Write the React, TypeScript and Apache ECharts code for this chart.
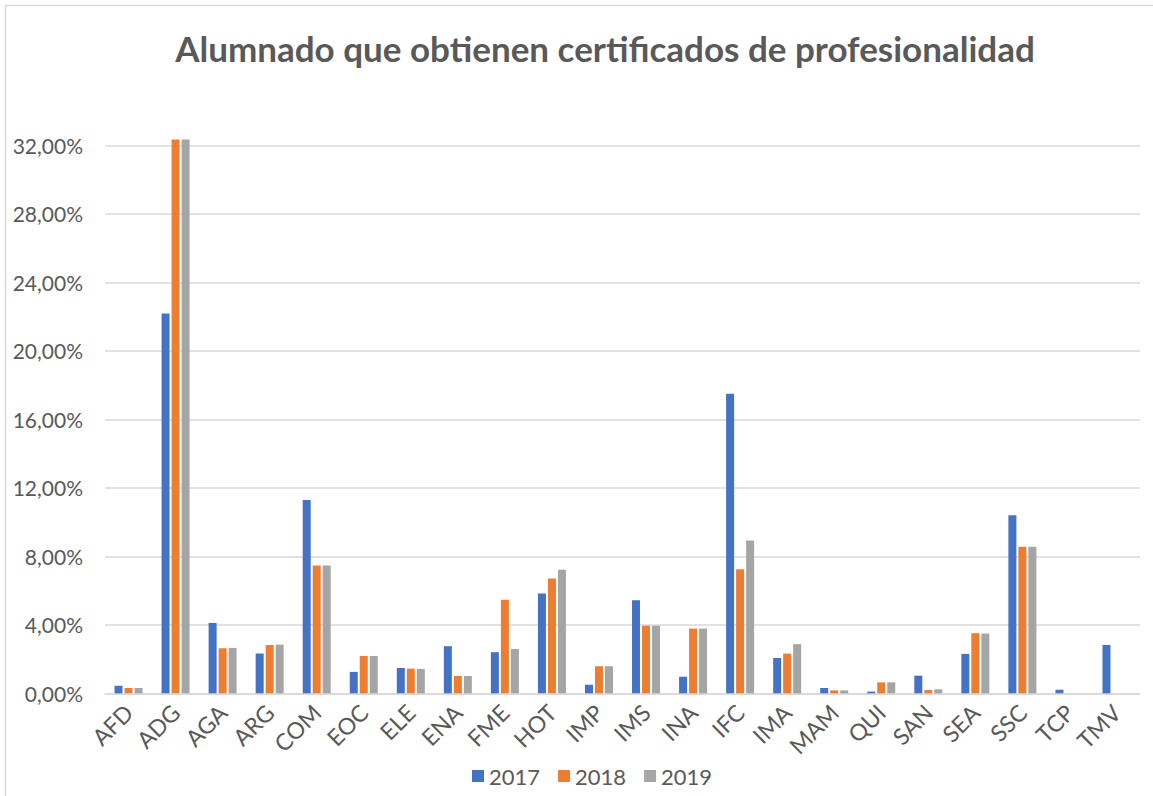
import React, { useEffect, useRef } from "react";
import * as echarts from "echarts";

const categories = ["AFD","ADG","AGA","ARG","COM","EOC","ELE","ENA","FME","HOT","IMP","IMS","INA","IFC","IMA","MAM","QUI","SAN","SEA","SSC","TCP","TMV"];
const v2017 = [0.44,22.18,4.11,2.32,11.29,1.25,1.48,2.75,2.40,5.83,0.50,5.44,0.97,17.49,2.06,0.31,0.10,1.03,2.30,10.39,0.21,2.82];
const v2018 = [0.31,32.34,2.63,2.82,7.46,2.18,1.44,1.01,5.46,6.70,1.58,3.95,3.78,7.25,2.32,0.17,0.64,0.19,3.51,8.56,0,0];
const v2019 = [0.31,32.34,2.65,2.84,7.46,2.18,1.42,1.01,2.59,7.21,1.58,3.95,3.78,8.92,2.87,0.17,0.64,0.23,3.49,8.56,0,0];
const seriesNames = ["2017","2018","2019"];
const colors = ["#4472C4","#ED7D31","#A5A5A5"];

export default function App() {
  const ref = useRef<HTMLDivElement>(null);
  useEffect(() => {
    document.body.style.margin = "0";
    const chart = echarts.init(ref.current!, null, { renderer: "svg" });
    const data = [v2017, v2018, v2019];
    chart.setOption({
      animation: false,
      textStyle: { fontFamily: "Lato" },
      title: {
        text: "Alumnado que obtienen certificados de profesionalidad",
        left: 600, top: 25, textAlign: "center",
        textStyle: { fontFamily: "Lato", fontWeight: "bold", fontSize: 35, color: "#595959" },
      },
      graphic: [{
        type: "rect", shape: { x: 5.5, y: 5.5, width: 1200, height: 900 },
        style: { fill: "none", stroke: "#d9d9d9", lineWidth: 1.5 }, silent: true,
      }],
      legend: {
        data: seriesNames, left: 467, top: 760, itemWidth: 12, itemHeight: 12, itemGap: 18,
        icon: "rect",
        textStyle: { fontFamily: "Lato", fontSize: 22, color: "#595959" },
      },
      grid: { left: 105, right: 13, top: 145.3, bottom: 102.7, containLabel: false },
      xAxis: {
        type: "category", data: categories,
        axisTick: { show: false },
        axisLine: { lineStyle: { color: "#d9d9d9", width: 1.5 } },
        axisLabel: { rotate: 45, interval: 0, margin: 15, fontFamily: "Lato", fontSize: 23, color: "#595959" },
      },
      yAxis: {
        type: "value", min: 0, max: 32, interval: 4,
        axisLine: { show: false }, axisTick: { show: false },
        splitLine: { lineStyle: { color: "#d9d9d9", width: 1.5 } },
        axisLabel: {
          margin: 22, fontFamily: "Lato", fontSize: 21, color: "#595959",
          formatter: (v: number) => v.toFixed(2).replace(".", ",") + "%",
        },
      },
      series: data.map((d, i) => ({
        name: seriesNames[i], type: "bar", data: d, clip: false,
        barWidth: 8, barGap: "25%",
        itemStyle: { color: colors[i] },
      })),
    });
    return () => chart.dispose();
  }, []);
  return <div ref={ref} style={{ position: "absolute", left: 0, top: 0, width: 1153, height: 796 }} />;
}
